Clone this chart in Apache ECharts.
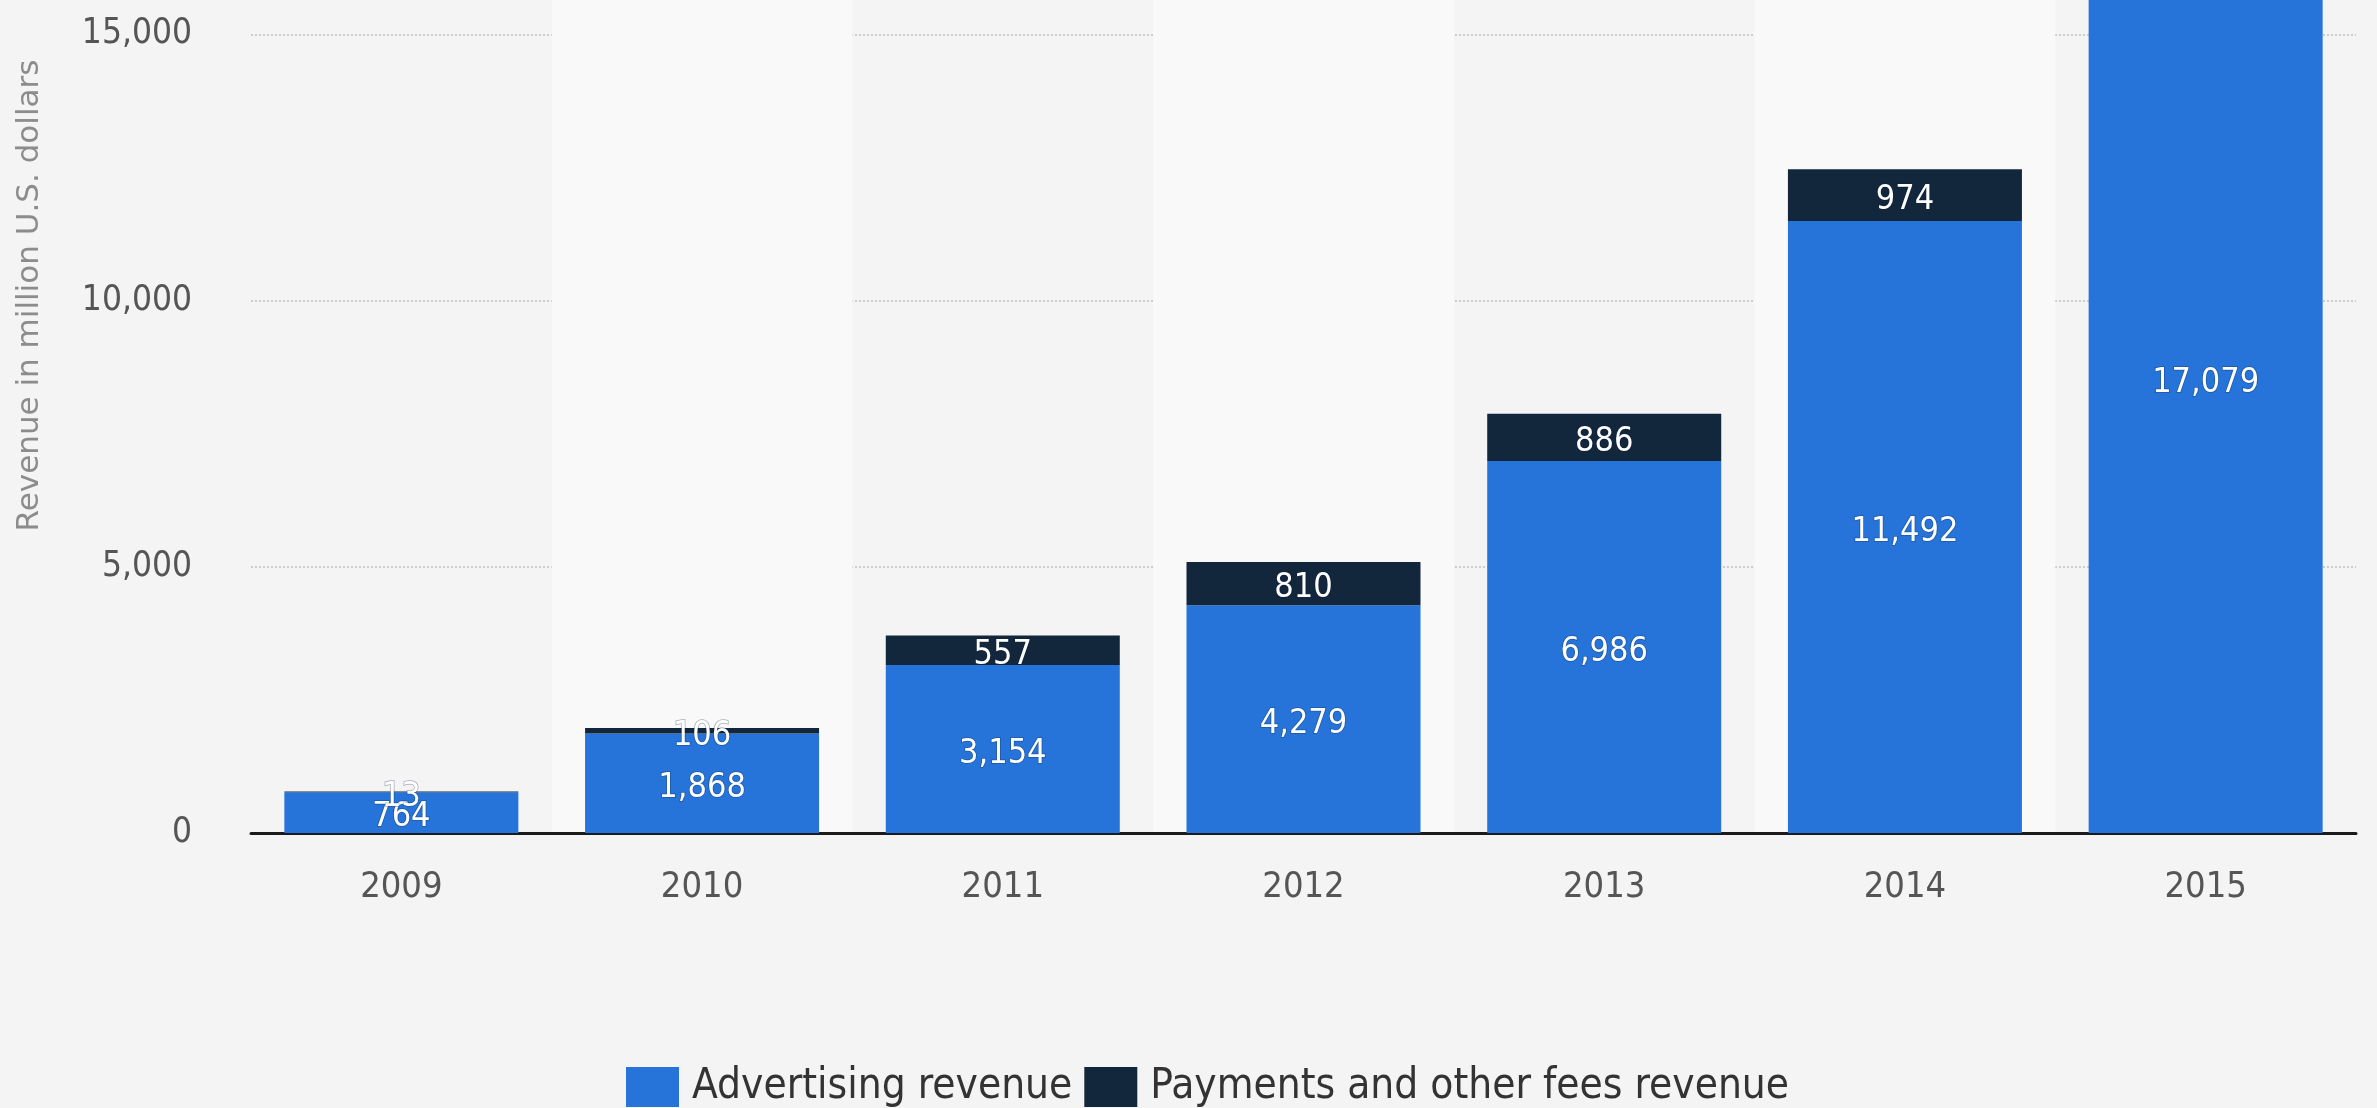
<!DOCTYPE html>
<html>
<head>
<meta charset="utf-8">
<script src="https://cdn.jsdelivr.net/npm/echarts@6/dist/echarts.min.js"></script>
<style>
  html, body { margin: 0; padding: 0; background: #f4f4f4; overflow: hidden; }
  body { width: 2377px; height: 1108px; position: relative; }
  /* the canvas is taller than the page; its top part (above 15,000) is scrolled out of view */
  #chart { position: absolute; left: 0; top: -232px; width: 2377px; height: 1340px; }
</style>
</head>
<body>
<div id="chart"></div>
<script>
// Revenue by year, split into advertising and payments/other fees (million USD)
const years = ['2009', '2010', '2011', '2012', '2013', '2014', '2015'];
const advertising = [764, 1868, 3154, 4279, 6986, 11492, 17079];
const payments = [13, 106, 557, 810, 886, 974, 849];
const yTicks = [0, 5000, 10000, 15000, 20000];

const FONT = "'DejaVu Sans Condensed', 'Liberation Sans Narrow', 'DejaVu Sans', sans-serif";
const fmt = v => Number(v).toLocaleString('en-US');

const chart = echarts.init(document.getElementById('chart'), null, { renderer: 'canvas' });

const valueLabel = {
  show: true,
  position: 'inside',
  offset: [0, 5],
  color: '#ffffff',
  fontFamily: FONT,
  fontSize: 34,
  textBorderColor: 'rgba(10,30,60,0.35)',
  textBorderWidth: 1.5,
  formatter: p => fmt(p.value)
};

chart.setOption({
  backgroundColor: '#f4f4f4',
  animation: false,
  grid: { left: 251, right: 21, top: 0, bottom: 275, containLabel: false, outerBoundsMode: 'none' },
  legend: {
    top: 1298,
    left: 626,
    padding: 0,
    itemWidth: 53,
    itemHeight: 40,
    itemGap: 12,
    icon: 'rect',
    textStyle: { fontFamily: FONT, fontSize: 42, color: '#333333', padding: [0, 0, 0, 8] },
    data: ['Advertising revenue', 'Payments and other fees revenue']
  },
  xAxis: {
    type: 'category',
    data: years,
    axisTick: { show: false },
    axisLine: { lineStyle: { color: '#1b1b1b', width: 3 } },
    axisLabel: { fontFamily: FONT, fontSize: 36, color: '#555555', margin: 37 },
    splitArea: { show: true, areaStyle: { color: ['rgba(0,0,0,0)', '#f9f9f9'] } }
  },
  yAxis: {
    type: 'value',
    min: yTicks[0],
    max: yTicks[yTicks.length - 1],
    interval: yTicks[1] - yTicks[0],
    name: 'Revenue in million U.S. dollars',
    nameLocation: 'middle',
    nameGap: 206,
    nameTextStyle: { fontFamily: "'DejaVu Sans', sans-serif", fontSize: 31, color: '#8c8c8c', padding: [0, 0, 0, 10] },
    axisLine: { show: false },
    axisTick: { show: false },
    axisLabel: { fontFamily: FONT, fontSize: 35, color: '#555555', margin: 59, formatter: v => fmt(v) },
    splitLine: { lineStyle: { color: '#cccccc', width: 2, type: 'dotted' } }
  },
  series: [
    {
      name: 'Advertising revenue',
      type: 'bar',
      stack: 'revenue',
      barWidth: 234,
      data: advertising,
      itemStyle: { color: '#2674da' },
      label: valueLabel
    },
    {
      name: 'Payments and other fees revenue',
      type: 'bar',
      stack: 'revenue',
      barWidth: 234,
      data: payments,
      itemStyle: { color: '#12263c' },
      label: valueLabel
    }
  ]
});
</script>
</body>
</html>
